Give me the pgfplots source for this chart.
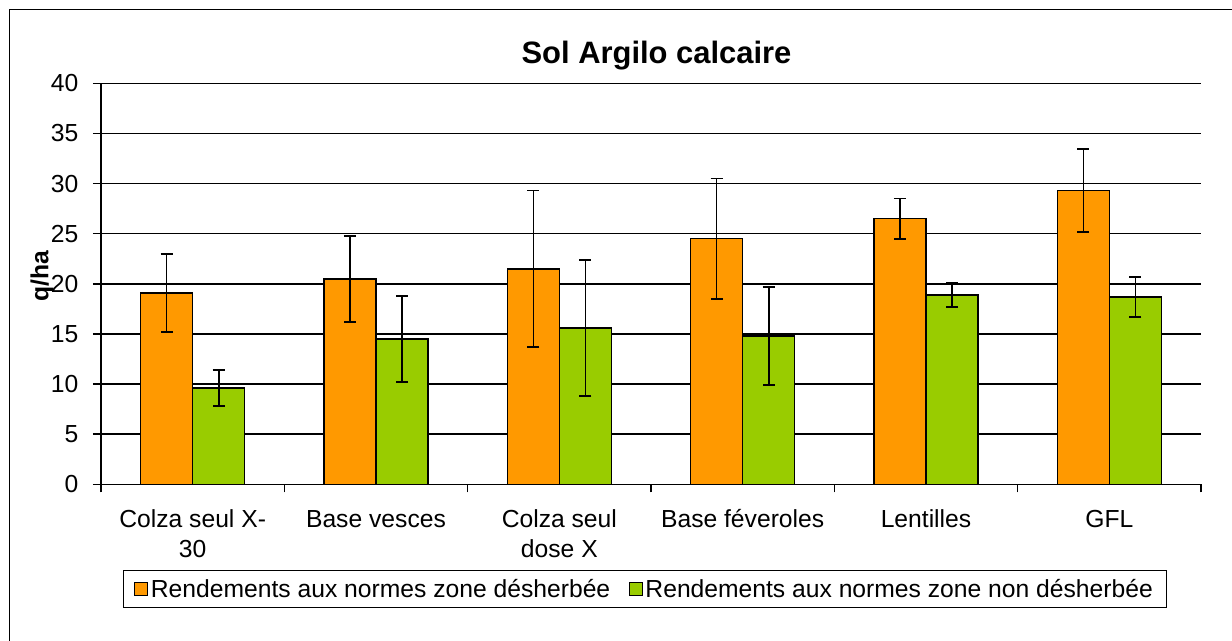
\documentclass[border=0pt]{standalone}
\usepackage{pgfplots}
\pgfplotsset{compat=1.18}
\usepackage{pgfplotstable}
\usepackage{fontspec}
\setmainfont{Liberation Sans}
\definecolor{orangeb}{HTML}{FF9900}
\definecolor{greenb}{HTML}{99CC00}

\pgfplotstableread{
x y e
0 19.1 3.9
1 20.5 4.3
2 21.5 7.8
3 24.5 6.0
4 26.5 2.0
5 29.3 4.15
}\desherbee
\pgfplotstableread{
x y e
0 9.6 1.8
1 14.5 4.3
2 15.6 6.8
3 14.8 4.9
4 18.9 1.2
5 18.7 2.0
}\nondesherbee

\begin{document}
\begin{tikzpicture}
\useasboundingbox (0pt,0pt) rectangle (924pt,480.75pt);
\draw[line width=1pt] (7pt,-2pt) -- (7pt,473.8pt) -- (930pt,473.8pt);
\begin{axis}[
 at={(75.75pt,117.5pt)}, anchor=south west,
 scale only axis, width=825pt, height=300.75pt,
 xmin=-0.5, xmax=5.5, ymin=0, ymax=40,
 ybar, bar width=0.284,
 axis x line=bottom, axis y line=left,
 axis line style={-, line width=1.1pt, black},
 ytick={0,5,...,40},
 ymajorgrids, grid style={line width=1.1pt, black},
 tick align=outside,
 major tick length=6pt, minor tick length=6pt,
 tick style={line width=1.1pt, black},
 xtick={0,...,5},
 xticklabels={{\rule{0pt}{17pt}Colza seul X-\\30},{\rule{0pt}{17pt}Base vesces},{\rule{0pt}{17pt}Colza seul\\dose X},{\rule{0pt}{17pt}Base féveroles},{\rule{0pt}{17pt}Lentilles},{\rule{0pt}{17pt}GFL}},
 minor xtick={-0.5,0.5,...,5.5},
 major x tick style={draw=none},
 xticklabel style={align=center, font=\fontsize{18.5}{22.5}\selectfont, yshift=-6pt},
 yticklabel style={font=\fontsize{18.5}{22.5}\selectfont, xshift=-7.5pt},
 /pgf/number format/assume math mode=true,
 ylabel={q/ha},
 ylabel style={font=\bfseries\fontsize{18.5}{22}\selectfont, at={(axis description cs:-0.0536,0.52)}, anchor=center},
 title={Sol Argilo calcaire},
 title style={font=\bfseries\fontsize{23.2}{27}\selectfont, at={(axis description cs:0.505,1.05)}, anchor=center},
 legend columns=2,
 legend style={at={(axis description cs:0.4945,-0.261)}, anchor=center, draw=black, line width=1pt, inner xsep=8pt, inner ysep=4.5pt, font=\fontsize{18.5}{22}\selectfont, /tikz/every even column/.append style={column sep=12pt}},
 legend image code/.code={\draw[#1, draw=black, line width=0.8pt] (0pt,-4.8pt) rectangle (9.6pt,4.8pt);},
 error bars/y dir=both, error bars/y explicit,
 error bars/error bar style={line width=1.2pt, black},
 error bars/error mark options={rotate=90, black, line width=1.2pt, mark size=4.5pt},
]
\addplot[bar shift=-0.142, fill=orangeb, draw=black, line width=1.1pt]
  table[x=x, y=y, y error=e] {\desherbee};
\addlegendentry{Rendements aux normes zone désherbée}
\addplot[bar shift=0.142, fill=greenb, draw=black, line width=1.1pt]
  table[x=x, y=y, y error=e] {\nondesherbee};
\addlegendentry{Rendements aux normes zone non désherbée}
\end{axis}
\end{tikzpicture}
\end{document}
